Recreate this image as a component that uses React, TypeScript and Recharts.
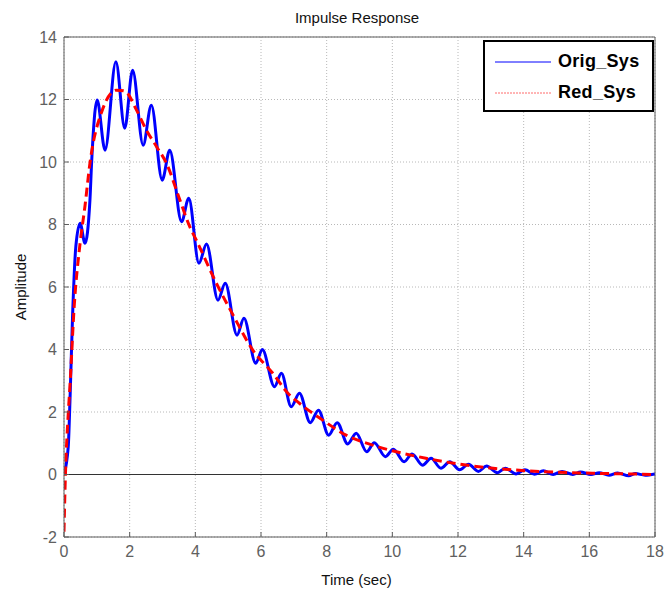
import { LineChart, Line, XAxis, YAxis, CartesianGrid, ReferenceLine, Legend } from 'recharts'

const X_TICKS = [0, 2, 4, 6, 8, 10, 12, 14, 16, 18]
const Y_TICKS = [-2, 0, 2, 4, 6, 8, 10, 12, 14]

// original system (blue, oscillating)
const ORIG_T = [
  0, 0.13, 0.18, 0.26, 0.36, 0.49, 0.64, 0.79, 0.84, 1.01, 1.25, 1.58, 1.85, 2.09, 2.41, 2.66,
  2.99, 3.22, 3.58, 3.8, 4.11, 4.34, 4.69, 4.91, 5.27, 5.48, 5.84, 6.04, 6.41, 6.62, 6.92, 7.17,
  7.5, 7.75, 8.06, 8.32, 8.64, 8.9, 9.22, 9.45, 9.79, 10.03, 10.36, 10.6, 10.92, 11.18, 11.48,
  11.75, 12.05, 12.32, 12.62, 12.87, 13.2, 13.44, 13.77, 14.04, 14.33, 14.6, 14.9, 15.17, 15.5,
  15.73, 16.05, 16.3, 16.6, 16.86, 17.2, 17.4, 17.7, 18,
]
const ORIG_V = [
  0, 0.9, 2.3, 5.05, 7.29, 8.04, 7.4, 8.78, 9.96, 11.98, 10.38, 13.21, 11.08, 12.94, 10.54, 11.82,
  9.42, 10.38, 8.09, 8.84, 6.76, 7.38, 5.58, 6.12, 4.46, 5.0, 3.56, 4.0, 2.81, 3.24, 2.17, 2.6,
  1.66, 2.06, 1.26, 1.66, 0.98, 1.32, 0.73, 1.02, 0.57, 0.81, 0.41, 0.66, 0.3, 0.52, 0.2,
  0.41, 0.15, 0.33, 0.1, 0.27, 0.06, 0.2, 0.02, 0.15, 0.01, 0.12, 0.0, 0.1, 0.0,
  0.08, 0.0, 0.06, -0.02, 0.05, -0.04, 0.03, -0.02, 0.02,
]

// reduced system (red dashed, smooth)
const RED_T = [
  0, 0.03, 0.13, 0.18, 0.31, 0.49, 0.64, 0.79, 1.15, 1.6, 1.85, 2.21, 2.51, 2.82, 3.12, 3.53,
  3.83, 4.03, 4.64, 5.15, 5.75, 6.36, 6.82, 7.17, 7.88, 8.59, 9.4, 10.0, 11.02, 12.05, 13.07,
  14.1, 15.1, 16.1, 17.1, 18,
]
const RED_V = [
  -1.83, -0.5, 1.96, 2.81, 5.37, 7.4, 8.6, 9.96, 11.61, 12.3, 12.27, 11.66, 11.02, 10.49, 9.96, 8.78,
  7.93, 7.5, 6.12, 5.1, 3.98, 3.24, 2.6, 2.28, 1.74, 1.26, 0.94, 0.76, 0.52, 0.33, 0.2,
  0.12, 0.07, 0.04, 0.02, 0.0,
]

const origData = ORIG_T.map((t, i) => ({ t, v: ORIG_V[i] }))
const redData = RED_T.map((t, i) => ({ t, v: RED_V[i] }))

const FONT = '"Liberation Sans", Arial, sans-serif'
const AXIS = '#5c5c5c'
const LABEL = '#606060'
const GAP = 7

function XTick({ x, y, payload }: { x: number; y: number; payload: { value: number } }) {
  const axisY = y - GAP
  return (
    <g>
      <line x1={x} x2={x} y1={axisY} y2={axisY - 5} stroke={AXIS} />
      <text x={x} y={y} dy="0.8em" textAnchor="middle" fill={LABEL} fontSize={16} fontFamily={FONT}>
        {payload.value}
      </text>
    </g>
  )
}

function YTick({ x, y, payload }: { x: number; y: number; payload: { value: number } }) {
  const axisX = x + GAP
  return (
    <g>
      <line x1={axisX} x2={axisX + 5} y1={y} y2={y} stroke={AXIS} />
      <text x={x} y={y} dy="0.36em" textAnchor="end" fill={LABEL} fontSize={16} fontFamily={FONT}>
        {payload.value}
      </text>
    </g>
  )
}

function LegendBox() {
  const rows = [
    { name: 'Orig_Sys', color: '#0000ff', dash: undefined },
    { name: 'Red_Sys', color: '#ff6a6a', dash: '2 1' },
  ]
  return (
    <div
      style={{
        width: 171, height: 72, boxSizing: 'border-box', border: '2px solid #000', background: '#fff',
        padding: '4px 0 0 10px', fontFamily: FONT,
      }}
    >
      {rows.map(r => (
        <div key={r.name} style={{ display: 'flex', alignItems: 'center', height: 31 }}>
          <svg width={56} height={4} style={{ marginRight: 7 }}>
            <line x1={0} x2={56} y1={2} y2={2} stroke={r.color} strokeWidth={1} strokeDasharray={r.dash} />
          </svg>
          <span style={{ fontWeight: 700, fontSize: 18, color: '#000', letterSpacing: 0.3 }}>{r.name}</span>
        </div>
      ))}
    </div>
  )
}

export default function App() {
  return (
    <div style={{ position: 'absolute', left: 0, top: 0, width: 670, height: 593, background: '#fff' }}>
      <div
        style={{
          position: 'absolute', left: 257, top: 9, width: 200, textAlign: 'center',
          fontFamily: FONT, fontSize: 15, lineHeight: '18px', color: '#111',
        }}
      >
        Impulse Response
      </div>
      <LineChart width={670} height={593} margin={{ top: 37, right: 15, bottom: 4, left: 4 }}>
        <CartesianGrid stroke="#b8b8b8" strokeDasharray="1 2" />
        <XAxis
          dataKey="t"
          type="number"
          domain={[0, 18]}
          ticks={X_TICKS}
          allowDataOverflow
          height={52}
          tickSize={0}
          tickMargin={GAP}
          tickLine={false}
          axisLine={{ stroke: AXIS }}
          tick={XTick}
          label={{ value: 'Time (sec)', position: 'insideBottom', offset: 4, fill: '#111', fontSize: 15, fontFamily: FONT, dx: -3 }}
        />
        <XAxis
          xAxisId="top"
          orientation="top"
          mirror
          type="number"
          domain={[0, 18]}
          ticks={X_TICKS}
          allowDataOverflow
          tick={false}
          tickSize={5}
          tickLine={{ stroke: AXIS }}
          axisLine={{ stroke: AXIS }}
        />
        <YAxis
          type="number"
          domain={[-2, 14]}
          ticks={Y_TICKS}
          allowDataOverflow
          width={60}
          tickSize={0}
          tickMargin={GAP}
          tickLine={false}
          axisLine={{ stroke: AXIS }}
          tick={YTick}
          label={{ value: 'Amplitude', angle: -90, position: 'insideLeft', offset: 17, fill: '#111', fontSize: 15, fontFamily: FONT, style: { textAnchor: 'middle' } }}
        />
        <YAxis
          yAxisId="right"
          orientation="right"
          mirror
          type="number"
          domain={[-2, 14]}
          ticks={Y_TICKS}
          allowDataOverflow
          tick={false}
          tickSize={5}
          tickLine={{ stroke: AXIS }}
          axisLine={{ stroke: AXIS }}
        />
        <ReferenceLine y={0} stroke="#333" strokeWidth={1.2} />
        <Line
          data={origData}
          dataKey="v"
          name="Orig_Sys"
          type="monotone"
          stroke="#0000ff"
          strokeWidth={3}
          dot={false}
          isAnimationActive={false}
        />
        <Line
          data={redData}
          dataKey="v"
          name="Red_Sys"
          type="monotone"
          stroke="#ff0000"
          strokeWidth={3}
          strokeDasharray="9 5"
          dot={false}
          isAnimationActive={false}
        />
        <Legend
          layout="horizontal"
          verticalAlign="middle"
          align="center"
          content={() => <LegendBox />}
          wrapperStyle={{ left: 483, top: 40, width: 171, height: 72 }}
        />
      </LineChart>
    </div>
  )
}
